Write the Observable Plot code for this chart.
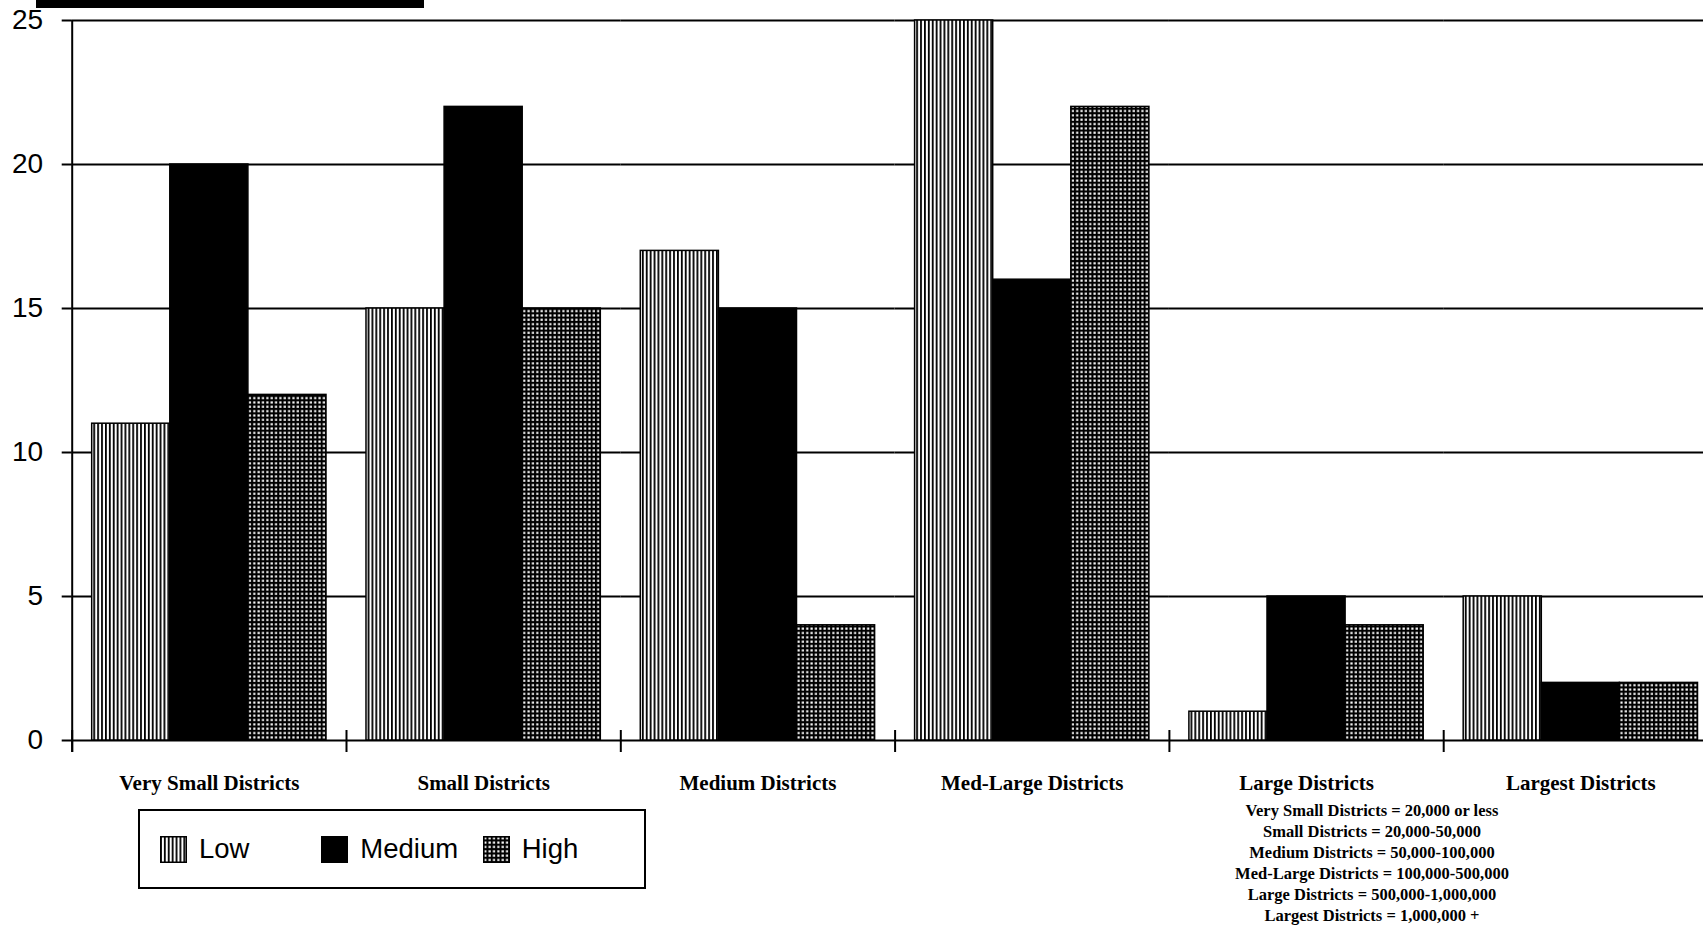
<!DOCTYPE html>
<html>
<head>
<meta charset="utf-8">
<script src="https://cdn.jsdelivr.net/npm/d3@7"></script>
<script src="https://cdn.jsdelivr.net/npm/@observablehq/plot@0.6"></script>
<style>
  html, body { margin: 0; padding: 0; background: #fff; overflow: hidden; }
  #page { position: relative; width: 1703px; height: 927px; }
  #redacted { position: absolute; left: 36px; top: 0; width: 388px; height: 8px; background: #000; }
  #legend {
    position: absolute; left: 138px; top: 809px; width: 508px; height: 80px;
    box-sizing: border-box; border: 2px solid #000; display: flex; align-items: center;
    padding-left: 20px;
    font-family: "Liberation Sans", Arial, sans-serif; font-size: 27.5px; color: #000;
  }
  #legend .item { width: 163px; display: flex; align-items: center; }
  #legend svg { display: block; margin-right: 12px; }
  #notes {
    position: absolute; left: 1222px; top: 800px; width: 300px; text-align: center;
    font-family: "Liberation Serif", "Times New Roman", serif; font-weight: bold;
    font-size: 16.5px; line-height: 21px; color: #000;
  }
</style>
</head>
<body>
<div id="page">
  <div id="redacted"></div>
  <div id="chart"></div>
  <div id="legend"></div>
  <div id="notes"></div>
</div>
<script>
// District size groups and the three rating levels
const districts = ["Very Small Districts", "Small Districts", "Medium Districts", "Med-Large Districts", "Large Districts", "Largest Districts"];
const levels = ["Low", "Medium", "High"];

// Counts per district group, one array per level
const lowCounts = [11, 15, 17, 25, 1, 5];
const mediumCounts = [20, 22, 15, 16, 5, 2];
const highCounts = [12, 15, 4, 22, 4, 2];

const yTicks = [0, 5, 10, 15, 20, 25];

const sizeNotes = [
  "Very Small Districts = 20,000 or less",
  "Small Districts = 20,000-50,000",
  "Medium Districts = 50,000-100,000",
  "Med-Large Districts = 100,000-500,000",
  "Large Districts = 500,000-1,000,000",
  "Largest Districts = 1,000,000 +"
];

const series = [lowCounts, mediumCounts, highCounts];
const rows = districts.flatMap((district, i) =>
  levels.map((level, j) => ({district, level, value: series[j][i]}))
);

// Horizontal extent of the district bands (the last band runs past the right edge)
const fxRange = [71.7, 1717.5];
const band = (fxRange[1] - fxRange[0]) / districts.length;
const outerPad = 0.256;
const step = band / (levels.length + 2 * outerPad);
// shift from the centre of the first bar to the left edge of its group
const toGroupEdge = -(outerPad * step + step / 2);

const chart = Plot.plot({
  width: 1703,
  height: 800,
  marginLeft: 72,
  marginRight: 0,
  marginTop: 20,
  marginBottom: 60,
  style: {background: "#fff", color: "#000"},
  fx: {domain: districts, range: fxRange, padding: 0, round: false, axis: null},
  x: {domain: levels, paddingInner: 0, paddingOuter: outerPad, round: false, axis: null},
  y: {domain: [0, 25], range: [740, 20], axis: null},
  color: {domain: levels, range: ["url(#pat-low)", "#000", "url(#pat-high)"]},
  marks: [
    // horizontal grid, including the baseline
    Plot.ruleY(yTicks, {stroke: "#000", strokeWidth: 1.8}),
    Plot.barY(rows, {fx: "district", x: "level", y: "value", fill: "level", stroke: "#000", strokeWidth: 1.5}),
    // tick marks between district groups
    Plot.ruleX(districts, {
      fx: d => d, x: () => levels[0], dx: toGroupEdge,
      y1: 0, y2: 0, insetTop: -10, insetBottom: -12, stroke: "#000", strokeWidth: 2
    }),
    // vertical value axis line
    Plot.ruleX(districts.slice(0, 1), {
      fx: d => d, x: () => levels[0], dx: toGroupEdge,
      y1: 25, y2: 0, insetBottom: -12, stroke: "#000", strokeWidth: 2
    }),
    Plot.axisY({
      ticks: yTicks, tickSize: 10, tickPadding: 19, label: null, strokeWidth: 2,
      fontSize: 28, fontFamily: "Liberation Sans, Arial, sans-serif", tickFormat: d => String(d)
    }),
    Plot.text(districts, {
      fx: d => d, y: 0, text: d => d, dy: 49, lineAnchor: "bottom",
      fontSize: 21, fontFamily: "Liberation Serif, Times New Roman, serif", fontWeight: "bold", fill: "#000"
    })
  ]
});

// Fill patterns for the Low (vertical hatching) and High (dotted grid) bars
const defs = d3.select(chart).insert("defs", ":first-child");
const low = defs.append("pattern").attr("id", "pat-low")
  .attr("patternUnits", "userSpaceOnUse").attr("width", 3.9).attr("height", 10);
low.append("rect").attr("width", 3.9).attr("height", 10).attr("fill", "#fff");
low.append("rect").attr("width", 1.8).attr("height", 10).attr("fill", "#000");
const high = defs.append("pattern").attr("id", "pat-high")
  .attr("patternUnits", "userSpaceOnUse").attr("width", 4.35).attr("height", 4.35);
high.append("rect").attr("width", 4.35).attr("height", 4.35).attr("fill", "#000");
high.append("rect").attr("x", 1.2).attr("y", 1.2).attr("width", 2.2).attr("height", 2.1).attr("fill", "#fff");

document.getElementById("chart").appendChild(chart);

// Boxed legend using the same fills as the bars
const color = chart.scale("color");
const legend = d3.select("#legend");
levels.forEach(level => {
  const item = legend.append("div").attr("class", "item");
  const sw = item.append("svg").attr("width", 27).attr("height", 27);
  sw.append("rect").attr("x", 0.75).attr("y", 0.75).attr("width", 25.5).attr("height", 25.5)
    .attr("fill", color.apply(level)).attr("stroke", "#000").attr("stroke-width", 1.5);
  item.append("span").text(level);
});

// Size definitions for each district group
d3.select("#notes").selectAll("div").data(sizeNotes).join("div").text(d => d);
</script>
</body>
</html>
